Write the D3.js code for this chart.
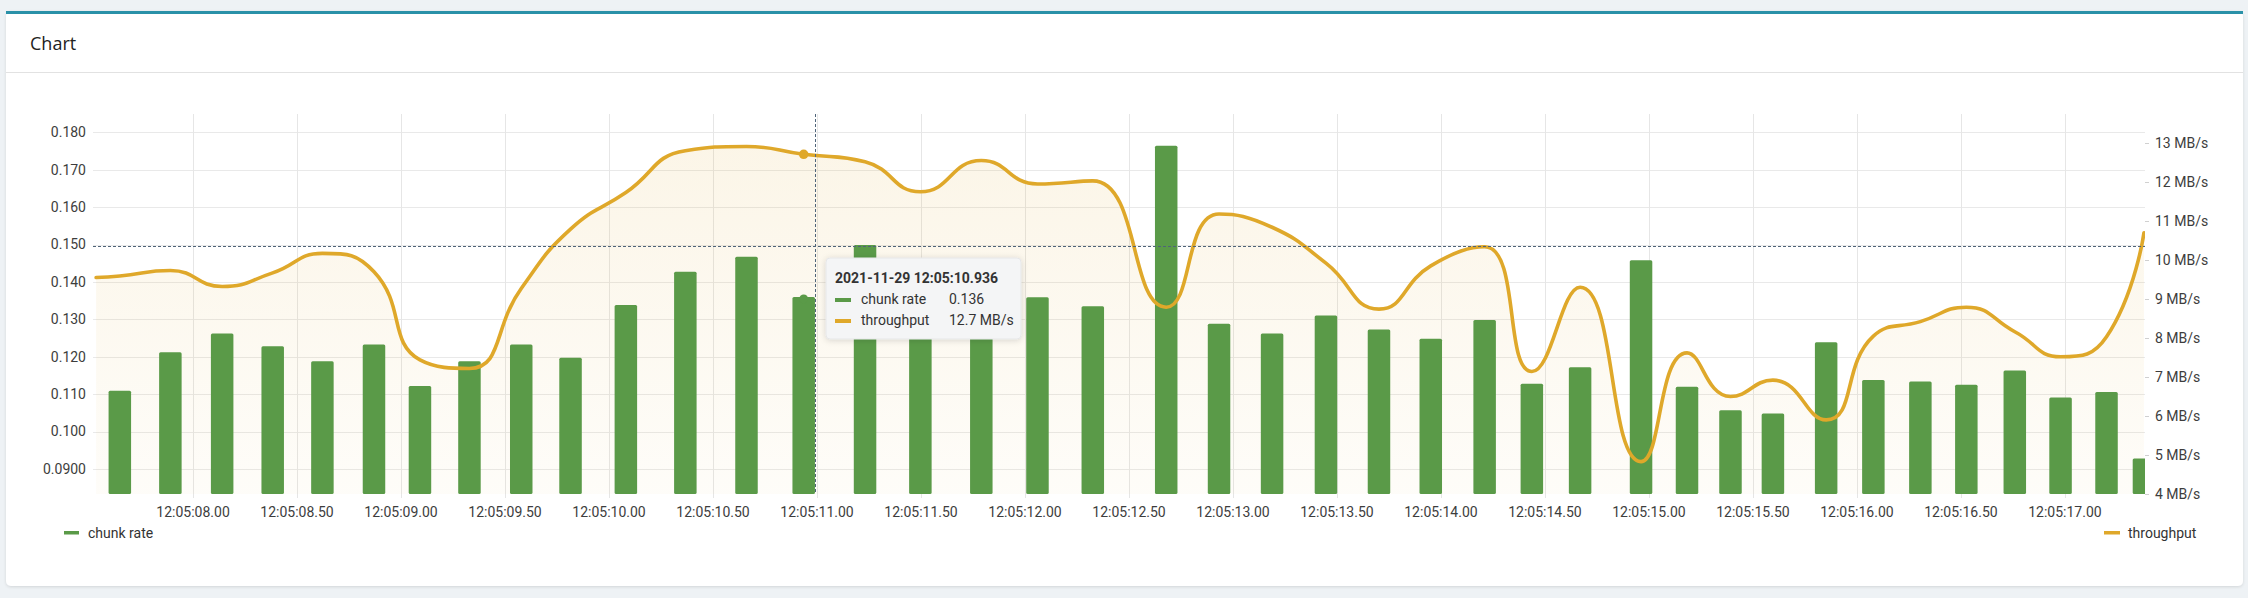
<!DOCTYPE html>
<html><head><meta charset="utf-8">
<script src="https://cdn.jsdelivr.net/npm/d3@7"></script>
<style>
html,body{margin:0;padding:0;background:#eef2f5;}
svg{display:block;font-family:Roboto,"Liberation Sans",Arial,sans-serif;}
</style></head><body>
<svg id="c" width="2248" height="598"></svg>
<script>
// ---------- data ----------
const baseTime = "2021-11-29T12:05:00";
// seconds after 12:05:00 for every sample
const sampleSeconds = [7.534, 7.648, 7.891, 8.140, 8.383, 8.622, 8.870, 9.091, 9.329, 9.578, 9.815,
  10.081, 10.367, 10.661, 10.936, 11.231, 11.497, 11.790, 12.060, 12.326, 12.679,
  12.933, 13.188, 13.447, 13.702, 13.951, 14.210, 14.437, 14.669, 14.962, 15.183,
  15.392, 15.596, 15.852, 16.079, 16.305, 16.526, 16.759, 16.979, 17.200, 17.380];
const chunkRate = [null, 0.1109, 0.1212, 0.1262, 0.1228, 0.1188, 0.1233, 0.1122, 0.1188, 0.1233, 0.1197,
  0.1338, 0.1427, 0.1467, 0.136, 0.1499, 0.138, 0.133, 0.1359, 0.1335, 0.1764,
  0.1288, 0.1262, 0.1310, 0.1273, 0.1248, 0.1298, 0.1128, 0.1172, 0.1458, 0.1120,
  0.1057, 0.1048, 0.1239, 0.1138, 0.1134, 0.1125, 0.1163, 0.1091, 0.1106, 0.0928];
const throughput = [9.55, 9.59, 9.73, 9.32, 9.67, 10.17, 9.70, 7.44, 7.22, 9.27, 10.79,
  11.73, 12.80, 12.91, 12.71, 12.52, 11.75, 12.55, 11.95, 12.03, 8.79,
  11.18, 10.84, 9.92, 8.74, 9.85, 10.34, 7.14, 9.30, 4.83, 7.62,
  6.50, 6.92, 5.90, 8.05, 8.42, 8.79, 8.16, 7.52, 8.03, 10.70];
const xTickLabels = ["12:05:08.00","12:05:08.50","12:05:09.00","12:05:09.50","12:05:10.00",
  "12:05:10.50","12:05:11.00","12:05:11.50","12:05:12.00","12:05:12.50","12:05:13.00",
  "12:05:13.50","12:05:14.00","12:05:14.50","12:05:15.00","12:05:15.50","12:05:16.00",
  "12:05:16.50","12:05:17.00"];
const leftTicks = [0.09, 0.10, 0.11, 0.12, 0.13, 0.14, 0.15, 0.16, 0.17, 0.18];
const leftTickLabels = ["0.0900","0.100","0.110","0.120","0.130","0.140","0.150","0.160","0.170","0.180"];
const rightTicks = [4, 5, 6, 7, 8, 9, 10, 11, 12, 13];
const seriesNames = ["chunk rate", "throughput"];
const hoverIndex = 14;
const pointerValue = 0.1495;

// ---------- layout ----------
const plot = {l: 93, r: 2145, t: 114, b: 494};
const green = "#5a9a48", gold = "#dfa82a";
const base = new Date(baseTime);
const toDate = s => new Date(base.getTime() + s * 1000);
const parseTick = s => { const [h,m,sec] = s.split(":"); return new Date(base.getTime() + (+sec) * 1000 + ((+m) - 5) * 60000 + ((+h) - 12) * 3600000); };

const data = sampleSeconds.map((s, i) => ({t: toDate(s), c: chunkRate[i], v: throughput[i]}));

const x = d3.scaleTime().domain([toDate(7.519), toDate(17.385)]).range([plot.l, plot.r]);
const yL = d3.scaleLinear().domain([0.0833, 0.1849]).range([plot.b, plot.t]);
const yR = d3.scaleLinear().domain([4, 13.744]).range([plot.b, plot.t]);

const svg = d3.select("#c");
const defs = svg.append("defs");
const sh = defs.append("filter").attr("id","sh").attr("x","-10%").attr("y","-10%").attr("width","120%").attr("height","130%");
sh.append("feDropShadow").attr("dx",0).attr("dy",1).attr("stdDeviation",3).attr("flood-color","#000").attr("flood-opacity",0.15);
const cs = defs.append("filter").attr("id","cs").attr("x","-1%").attr("y","-2%").attr("width","102%").attr("height","104%");
cs.append("feDropShadow").attr("dx",0).attr("dy",1).attr("stdDeviation",1.5).attr("flood-color","#000").attr("flood-opacity",0.12);
const grad = defs.append("linearGradient").attr("id","ag").attr("x1",0).attr("y1",0).attr("x2",0).attr("y2",1);
grad.append("stop").attr("offset","0%").attr("stop-color",gold).attr("stop-opacity",0.11);
grad.append("stop").attr("offset","100%").attr("stop-color",gold).attr("stop-opacity",0.03);
defs.append("clipPath").attr("id","pc").append("rect")
  .attr("x",plot.l).attr("y",plot.t - 10).attr("width",plot.r - plot.l).attr("height",plot.b - plot.t + 10);

// ---------- card ----------
svg.append("rect").attr("x",6).attr("y",11).attr("width",2237).attr("height",575).attr("rx",5)
  .attr("fill","#fff").attr("filter","url(#cs)");
svg.append("rect").attr("x",6).attr("y",11).attr("width",2237).attr("height",3).attr("fill","#2a91a8");
svg.append("line").attr("x1",6).attr("x2",2243).attr("y1",72.5).attr("y2",72.5).attr("stroke","#e2e2e2");
svg.append("text").attr("x",30).attr("y",50).attr("font-size",18).attr("fill","#222")
  .style("font-family","'Open Sans',Lato,sans-serif").text("Chart");

// ---------- grid ----------
const g = svg.append("g");
g.selectAll(".hg").data(leftTicks).join("line")
  .attr("x1",plot.l).attr("x2",plot.r).attr("y1",d => Math.round(yL(d)) + 0.5).attr("y2",d => Math.round(yL(d)) + 0.5)
  .attr("stroke","#e9e9e9");
const xTickDates = xTickLabels.map(parseTick);
g.selectAll(".vg").data(xTickDates).join("line")
  .attr("x1",d => Math.round(x(d)) + 0.5).attr("x2",d => Math.round(x(d)) + 0.5)
  .attr("y1",plot.t).attr("y2",plot.b + 4).attr("stroke","#e6e6e6");

g.selectAll(".ll").data(leftTicks).join("text")
  .attr("x",86).attr("y",d => yL(d)).attr("dy","0.35em").attr("text-anchor","end")
  .attr("font-size",14).attr("fill","#3d3d3d").text((d,i) => leftTickLabels[i]);
g.selectAll(".rt").data(rightTicks).join("line")
  .attr("x1",plot.r).attr("x2",plot.r + 4).attr("y1",d => Math.round(yR(d)) + 0.5).attr("y2",d => Math.round(yR(d)) + 0.5)
  .attr("stroke","#d0d0d0");
g.selectAll(".rl").data(rightTicks).join("text")
  .attr("x",2155).attr("y",d => yR(d)).attr("dy","0.35em")
  .attr("font-size",14).attr("fill","#3d3d3d").text(d => d + " MB/s");
g.selectAll(".xl").data(xTickDates).join("text")
  .attr("x",d => x(d)).attr("y",517).attr("text-anchor","middle")
  .attr("font-size",14).attr("fill","#3d3d3d").text((d,i) => xTickLabels[i]);

// ---------- series ----------
function echartsSmooth(context) {
  let pts;
  const smooth = 0.5;
  const mn = Math.min, mx = Math.max;
  return {
    areaStart(){}, areaEnd(){},
    lineStart(){ pts = []; },
    point(px, py){ pts.push([+px, +py]); },
    lineEnd(){
      const n = pts.length;
      if (!n) return;
      context.moveTo(pts[0][0], pts[0][1]);
      let cpx0 = pts[0][0], cpy0 = pts[0][1];
      for (let i = 1; i < n; i++) {
        const [px, py] = pts[i];
        const [prevX, prevY] = pts[i-1];
        let cpx1, cpy1, ncx = px, ncy = py;
        if (i === n - 1) { cpx1 = px; cpy1 = py; }
        else {
          const [nextX, nextY] = pts[i+1];
          let vx = nextX - prevX, vy = nextY - prevY;
          const lenPrev = Math.hypot(px - prevX, py - prevY);
          const lenNext = Math.hypot(nextX - px, nextY - py);
          const ratio = lenNext / (lenNext + lenPrev);
          ncx = px + vx * smooth * ratio; ncy = py + vy * smooth * ratio;
          ncx = mn(ncx, mx(nextX, px)); ncy = mn(ncy, mx(nextY, py));
          ncx = mx(ncx, mn(nextX, px)); ncy = mx(ncy, mn(nextY, py));
          vx = ncx - px; vy = ncy - py;
          cpx1 = px - vx * lenPrev / lenNext; cpy1 = py - vy * lenPrev / lenNext;
          cpx1 = mn(cpx1, mx(prevX, px)); cpy1 = mn(cpy1, mx(prevY, py));
          cpx1 = mx(cpx1, mn(prevX, px)); cpy1 = mx(cpy1, mn(prevY, py));
          vx = px - cpx1; vy = py - cpy1;
          ncx = px + vx * lenNext / lenPrev; ncy = py + vy * lenNext / lenPrev;
        }
        context.bezierCurveTo(cpx0, cpy0, cpx1, cpy1, px, py);
        cpx0 = ncx; cpy0 = ncy;
      }
    }
  };
}
const lineGen = d3.line().x(d => x(d.t)).y(d => yR(d.v)).curve(echartsSmooth);
const linePath = lineGen(data);
const first = data[0], last = data[data.length - 1];
const areaPath = linePath + `L${x(last.t)},${plot.b}L${x(first.t)},${plot.b}Z`;

const pg = svg.append("g").attr("clip-path","url(#pc)");
pg.append("path").attr("d",areaPath).attr("fill","url(#ag)");
const barW = 22.5;
pg.selectAll(".bar").data(data.filter(d => d.c != null)).join("rect")
  .attr("x",d => x(d.t) - barW / 2).attr("width",barW)
  .attr("y",d => yL(d.c)).attr("height",d => plot.b - yL(d.c))
  .attr("rx",1.5).attr("fill",green);
pg.append("path").attr("d",linePath).attr("fill","none").attr("stroke",gold)
  .attr("stroke-width",3.6).attr("stroke-linejoin","round").attr("stroke-linecap","round");

// ---------- hover state ----------
const hd = data[hoverIndex];
const hx = x(hd.t);
svg.append("circle").attr("cx",hx).attr("cy",yL(hd.c) + 2).attr("r",4.5).attr("fill",green);
svg.append("circle").attr("cx",hx).attr("cy",yR(hd.v)).attr("r",4.8).attr("fill",gold);
const px = 815.5, py = Math.round(yL(pointerValue)) + 0.5;
svg.append("line").attr("x1",px).attr("x2",px).attr("y1",plot.t).attr("y2",plot.b)
  .attr("stroke","#4f6479").attr("stroke-dasharray","3,2");
svg.append("line").attr("x1",plot.l).attr("x2",plot.r).attr("y1",py).attr("y2",py)
  .attr("stroke","#4f6479").attr("stroke-dasharray","3,2");

const tt = svg.append("g").attr("transform","translate(826,258)");
tt.append("rect").attr("width",195).attr("height",81).attr("rx",4)
  .attr("fill","#f4f5f6").attr("stroke","#e6e7e8").attr("filter","url(#sh)");
const fmtTitle = d3.timeFormat("%Y-%m-%d %H:%M:%S.%L");
tt.append("text").attr("x",9).attr("y",24.5).attr("font-size",14).attr("font-weight","bold")
  .attr("fill","#333").text(fmtTitle(hd.t));
const rows = [
  {name: seriesNames[0], color: green, val: hd.c.toFixed(3)},
  {name: seriesNames[1], color: gold, val: hd.v.toFixed(1) + " MB/s"}
];
rows.forEach((r, i) => {
  const by = 45.5 + i * 21;
  tt.append("rect").attr("x",9).attr("y",by - 5.5).attr("width",16).attr("height",4).attr("fill",r.color);
  tt.append("text").attr("x",35).attr("y",by).attr("font-size",14).attr("fill","#333").text(r.name);
  tt.append("text").attr("x",123).attr("y",by).attr("font-size",14).attr("fill","#333").text(r.val);
});

// ---------- legends ----------
svg.append("rect").attr("x",64).attr("y",531).attr("width",15).attr("height",3.5).attr("fill",green);
svg.append("text").attr("x",88).attr("y",537.5).attr("font-size",14).attr("fill","#333").text(seriesNames[0]);
svg.append("rect").attr("x",2104).attr("y",531).attr("width",16).attr("height",3.5).attr("fill",gold);
svg.append("text").attr("x",2128).attr("y",537.5).attr("font-size",14).attr("fill","#333").text(seriesNames[1]);
</script>
</body></html>
